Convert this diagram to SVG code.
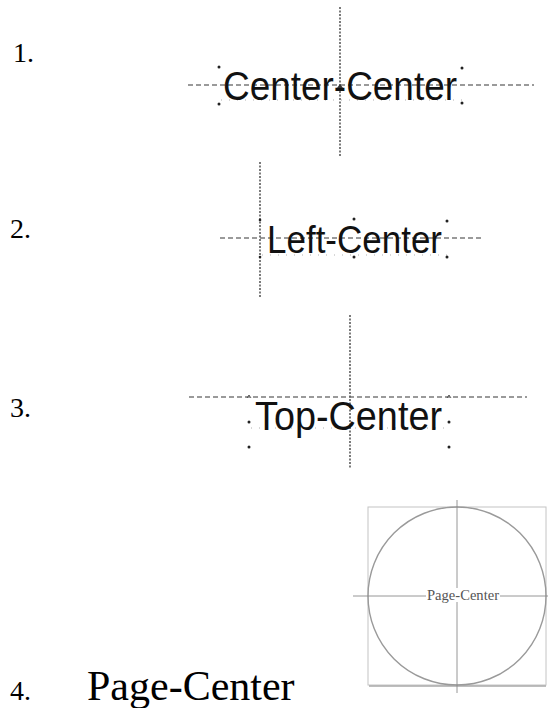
<svg xmlns="http://www.w3.org/2000/svg" width="548" height="708" viewBox="0 0 548 708">
<style>
.num{font-family:"Liberation Serif","Times New Roman",serif;font-size:28px;fill:#000}
.lbl{font-family:"Liberation Sans",Arial,sans-serif;fill:#111}
.hd{stroke:#7a7a7a;stroke-width:1.6;stroke-dasharray:5 3;fill:none}
.vd{stroke:#5a5a5a;stroke-width:1.6;stroke-dasharray:2 1.5;fill:none}
.bl{stroke:#b0b0b0;stroke-width:1;stroke-dasharray:1 7;fill:none}
.dot{fill:#222}
.thin{stroke:#8a8a8a;stroke-width:0.9;fill:none}
</style>
<rect width="548" height="708" fill="#fff"/>

<g id="connectors">
  <line class="hd" x1="188" y1="85" x2="534" y2="85"/>
  <line class="vd" x1="340" y1="7" x2="340" y2="157"/>
  <line class="bl" x1="221" y1="100" x2="462" y2="100"/>
  <line class="hd" x1="220" y1="238" x2="483" y2="238"/>
  <line class="vd" x1="260" y1="162" x2="260" y2="298"/>
  <line class="bl" x1="262" y1="255" x2="447" y2="255"/>
  <line class="hd" x1="189" y1="397" x2="527" y2="397"/>
  <line class="vd" x1="350" y1="315" x2="350" y2="468"/>
  <line class="bl" x1="251" y1="428" x2="449" y2="428"/>
</g>

<g id="label-1">
  <text class="num" x="13" y="62">1.</text>
</g>
<g id="node-center-center">
  <text class="lbl" x="223" y="99.5" font-size="40" textLength="234" lengthAdjust="spacingAndGlyphs">Center-Center</text>
  <circle class="dot" cx="219" cy="67" r="1.5"/>
  <circle class="dot" cx="219" cy="104" r="1.5"/>
  <circle class="dot" cx="462" cy="68" r="1.5"/>
  <circle class="dot" cx="462" cy="103" r="1.5"/>
  <path d="M337 88 L340 84 L343 88 Z" fill="#333"/>
</g>

<g id="label-2">
  <text class="num" x="10" y="238">2.</text>
</g>
<g id="node-left-center">
  <text class="lbl" x="267" y="253" font-size="39" textLength="175" lengthAdjust="spacingAndGlyphs">Left-Center</text>
  <circle class="dot" cx="260" cy="220" r="1.3"/>
  <circle class="dot" cx="260" cy="257" r="1.3"/>
  <circle class="dot" cx="354" cy="219" r="1.5"/>
  <circle class="dot" cx="354" cy="257" r="1.5"/>
  <circle class="dot" cx="447" cy="221" r="1.5"/>
  <circle class="dot" cx="447" cy="257" r="1.5"/>
</g>

<g id="label-3">
  <text class="num" x="10" y="417">3.</text>
</g>
<g id="node-top-center">
  <text class="lbl" x="255" y="430" font-size="41" textLength="187" lengthAdjust="spacingAndGlyphs">Top-Center</text>
  <circle class="dot" cx="249" cy="422" r="1.5"/>
  <circle class="dot" cx="249" cy="447" r="1.5"/>
  <circle class="dot" cx="449" cy="422" r="1.5"/>
  <circle class="dot" cx="449" cy="447" r="1.5"/>
  <path d="M247 398 L249 395 L251 398" stroke="#333" stroke-width="0.8" fill="none"/>
  <path d="M447 398 L449 395 L451 398" stroke="#333" stroke-width="0.8" fill="none"/>
</g>

<g id="node-page-center">
  <rect x="368" y="507" width="178" height="178" fill="#fff" stroke="#c4c4c4" stroke-width="1"/>
  <line x1="369" y1="686" x2="546" y2="686" stroke="#a8a8a8" stroke-width="1.5"/>
  <circle cx="457" cy="596" r="89" fill="none" stroke="#9a9a9a" stroke-width="1.4"/>
  <line class="thin" x1="457" y1="500" x2="457" y2="693"/>
  <line class="thin" x1="353" y1="596" x2="548" y2="596"/>
  <rect x="426" y="588" width="74" height="14" fill="#fff"/>
  <text x="463" y="600" font-family="Liberation Serif,'Times New Roman',serif" font-size="14.6" fill="#555" text-anchor="middle" textLength="72" lengthAdjust="spacingAndGlyphs">Page-Center</text>
</g>

<g id="label-4">
  <text class="num" x="10" y="700">4.</text>
  <text x="87" y="700" font-family="Liberation Serif,'Times New Roman',serif" font-size="42" fill="#000">Page-Center</text>
</g>
</svg>
